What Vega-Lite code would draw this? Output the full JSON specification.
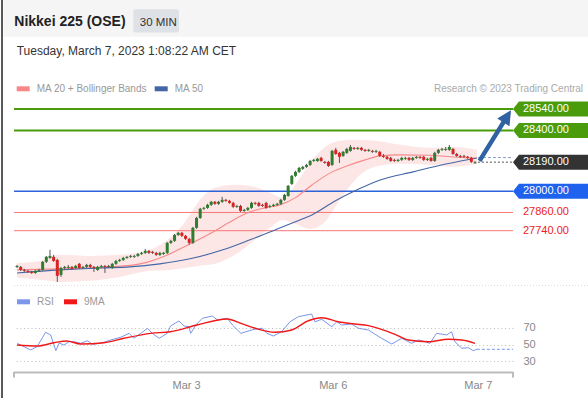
{
  "$schema": "https://vega.github.io/schema/vega-lite/v6.json",
  "width": 499,
  "height": 372,
  "autosize": "none",
  "padding": {"left": 14, "top": 0, "right": 75, "bottom": 26},
  "background": "#ffffff",
  "config": {"view": {"stroke": null}, "font": "Liberation Sans"},
  "datasets": {
    "candles": [
      {"i":0,"o":27502,"h":27515,"l":27495,"c":27508},
      {"i":1,"o":27502,"h":27508,"l":27476,"c":27482},
      {"i":2,"o":27482,"h":27489,"l":27469,"c":27476},
      {"i":3,"o":27476,"h":27482,"l":27462,"c":27469},
      {"i":4,"o":27469,"h":27476,"l":27456,"c":27462},
      {"i":5,"o":27462,"h":27482,"l":27456,"c":27476},
      {"i":6,"o":27476,"h":27489,"l":27469,"c":27482},
      {"i":7,"o":27482,"h":27541,"l":27476,"c":27535},
      {"i":8,"o":27535,"h":27574,"l":27528,"c":27568},
      {"i":9,"o":27561,"h":27614,"l":27555,"c":27574},
      {"i":10,"o":27568,"h":27581,"l":27535,"c":27541},
      {"i":11,"o":27548,"h":27555,"l":27403,"c":27443},
      {"i":12,"o":27449,"h":27502,"l":27436,"c":27495},
      {"i":13,"o":27495,"h":27508,"l":27482,"c":27502},
      {"i":14,"o":27495,"h":27515,"l":27489,"c":27502},
      {"i":15,"o":27502,"h":27508,"l":27482,"c":27489},
      {"i":16,"o":27495,"h":27515,"l":27489,"c":27508},
      {"i":17,"o":27522,"h":27528,"l":27489,"c":27495},
      {"i":18,"o":27495,"h":27508,"l":27489,"c":27502},
      {"i":19,"o":27502,"h":27522,"l":27495,"c":27515},
      {"i":20,"o":27515,"h":27522,"l":27495,"c":27502},
      {"i":21,"o":27502,"h":27508,"l":27469,"c":27495},
      {"i":22,"o":27482,"h":27508,"l":27476,"c":27502},
      {"i":23,"o":27502,"h":27515,"l":27495,"c":27508},
      {"i":24,"o":27508,"h":27515,"l":27462,"c":27502},
      {"i":25,"o":27502,"h":27515,"l":27495,"c":27508},
      {"i":26,"o":27495,"h":27528,"l":27489,"c":27522},
      {"i":27,"o":27522,"h":27548,"l":27515,"c":27541},
      {"i":28,"o":27541,"h":27555,"l":27535,"c":27548},
      {"i":29,"o":27548,"h":27568,"l":27541,"c":27561},
      {"i":30,"o":27561,"h":27574,"l":27555,"c":27568},
      {"i":31,"o":27568,"h":27581,"l":27561,"c":27574},
      {"i":32,"o":27568,"h":27581,"l":27561,"c":27574},
      {"i":33,"o":27574,"h":27594,"l":27568,"c":27587},
      {"i":34,"o":27587,"h":27601,"l":27581,"c":27594},
      {"i":35,"o":27594,"h":27620,"l":27587,"c":27607},
      {"i":36,"o":27607,"h":27614,"l":27587,"c":27594},
      {"i":37,"o":27601,"h":27607,"l":27587,"c":27594},
      {"i":38,"o":27594,"h":27601,"l":27574,"c":27581},
      {"i":39,"o":27581,"h":27601,"l":27574,"c":27594},
      {"i":40,"o":27587,"h":27601,"l":27581,"c":27594},
      {"i":41,"o":27594,"h":27666,"l":27587,"c":27660},
      {"i":42,"o":27660,"h":27680,"l":27653,"c":27673},
      {"i":43,"o":27673,"h":27719,"l":27666,"c":27712},
      {"i":44,"o":27712,"h":27732,"l":27706,"c":27726},
      {"i":45,"o":27726,"h":27732,"l":27699,"c":27706},
      {"i":46,"o":27706,"h":27712,"l":27680,"c":27686},
      {"i":47,"o":27686,"h":27693,"l":27647,"c":27660},
      {"i":48,"o":27660,"h":27765,"l":27653,"c":27759},
      {"i":49,"o":27759,"h":27831,"l":27752,"c":27824},
      {"i":50,"o":27824,"h":27890,"l":27818,"c":27884},
      {"i":51,"o":27884,"h":27897,"l":27877,"c":27890},
      {"i":52,"o":27890,"h":27917,"l":27884,"c":27910},
      {"i":53,"o":27910,"h":27936,"l":27903,"c":27930},
      {"i":54,"o":27930,"h":27936,"l":27910,"c":27917},
      {"i":55,"o":27917,"h":27936,"l":27910,"c":27930},
      {"i":56,"o":27930,"h":27963,"l":27923,"c":27943},
      {"i":57,"o":27943,"h":27949,"l":27930,"c":27936},
      {"i":58,"o":27936,"h":27943,"l":27917,"c":27923},
      {"i":59,"o":27923,"h":27930,"l":27890,"c":27897},
      {"i":60,"o":27897,"h":27910,"l":27890,"c":27903},
      {"i":61,"o":27903,"h":27910,"l":27864,"c":27870},
      {"i":62,"o":27870,"h":27884,"l":27864,"c":27877},
      {"i":63,"o":27877,"h":27897,"l":27870,"c":27890},
      {"i":64,"o":27890,"h":27930,"l":27884,"c":27923},
      {"i":65,"o":27923,"h":27930,"l":27910,"c":27917},
      {"i":66,"o":27923,"h":27930,"l":27897,"c":27903},
      {"i":67,"o":27910,"h":27917,"l":27897,"c":27903},
      {"i":68,"o":27923,"h":27930,"l":27884,"c":27890},
      {"i":69,"o":27897,"h":27910,"l":27890,"c":27903},
      {"i":70,"o":27903,"h":27917,"l":27897,"c":27910},
      {"i":71,"o":27910,"h":27923,"l":27903,"c":27917},
      {"i":72,"o":27917,"h":27949,"l":27910,"c":27943},
      {"i":73,"o":27943,"h":27982,"l":27936,"c":27976},
      {"i":74,"o":27969,"h":28041,"l":27963,"c":28035},
      {"i":75,"o":28048,"h":28107,"l":28041,"c":28101},
      {"i":76,"o":28101,"h":28134,"l":28094,"c":28127},
      {"i":77,"o":28127,"h":28160,"l":28120,"c":28153},
      {"i":78,"o":28147,"h":28166,"l":28140,"c":28160},
      {"i":79,"o":28160,"h":28180,"l":28153,"c":28173},
      {"i":80,"o":28173,"h":28206,"l":28166,"c":28199},
      {"i":81,"o":28199,"h":28213,"l":28193,"c":28206},
      {"i":82,"o":28199,"h":28219,"l":28193,"c":28213},
      {"i":83,"o":28219,"h":28226,"l":28193,"c":28199},
      {"i":84,"o":28193,"h":28199,"l":28180,"c":28186},
      {"i":85,"o":28193,"h":28199,"l":28160,"c":28166},
      {"i":86,"o":28173,"h":28272,"l":28166,"c":28265},
      {"i":87,"o":28272,"h":28285,"l":28239,"c":28245},
      {"i":88,"o":28252,"h":28259,"l":28186,"c":28226},
      {"i":89,"o":28232,"h":28265,"l":28226,"c":28259},
      {"i":90,"o":28252,"h":28285,"l":28245,"c":28278},
      {"i":91,"o":28265,"h":28304,"l":28259,"c":28291},
      {"i":92,"o":28285,"h":28291,"l":28272,"c":28278},
      {"i":93,"o":28278,"h":28291,"l":28272,"c":28285},
      {"i":94,"o":28285,"h":28291,"l":28265,"c":28272},
      {"i":95,"o":28272,"h":28278,"l":28259,"c":28265},
      {"i":96,"o":28265,"h":28278,"l":28259,"c":28272},
      {"i":97,"o":28265,"h":28272,"l":28252,"c":28259},
      {"i":98,"o":28259,"h":28272,"l":28252,"c":28265},
      {"i":99,"o":28259,"h":28265,"l":28226,"c":28232},
      {"i":100,"o":28232,"h":28245,"l":28219,"c":28226},
      {"i":101,"o":28226,"h":28232,"l":28206,"c":28213},
      {"i":102,"o":28219,"h":28226,"l":28193,"c":28199},
      {"i":103,"o":28206,"h":28213,"l":28193,"c":28199},
      {"i":104,"o":28199,"h":28213,"l":28193,"c":28206},
      {"i":105,"o":28206,"h":28226,"l":28199,"c":28219},
      {"i":106,"o":28213,"h":28226,"l":28206,"c":28219},
      {"i":107,"o":28219,"h":28226,"l":28199,"c":28206},
      {"i":108,"o":28206,"h":28226,"l":28199,"c":28219},
      {"i":109,"o":28219,"h":28232,"l":28213,"c":28226},
      {"i":110,"o":28226,"h":28232,"l":28213,"c":28219},
      {"i":111,"o":28226,"h":28232,"l":28199,"c":28206},
      {"i":112,"o":28206,"h":28219,"l":28199,"c":28213},
      {"i":113,"o":28219,"h":28226,"l":28193,"c":28199},
      {"i":114,"o":28199,"h":28259,"l":28193,"c":28252},
      {"i":115,"o":28252,"h":28278,"l":28245,"c":28272},
      {"i":116,"o":28272,"h":28285,"l":28265,"c":28278},
      {"i":117,"o":28272,"h":28291,"l":28265,"c":28278},
      {"i":118,"o":28272,"h":28304,"l":28265,"c":28291},
      {"i":119,"o":28278,"h":28285,"l":28239,"c":28245},
      {"i":120,"o":28245,"h":28252,"l":28226,"c":28232},
      {"i":121,"o":28232,"h":28239,"l":28219,"c":28226},
      {"i":122,"o":28232,"h":28239,"l":28219,"c":28226},
      {"i":123,"o":28226,"h":28232,"l":28213,"c":28219},
      {"i":124,"o":28219,"h":28226,"l":28186,"c":28193},
      {"i":125,"o":28184,"h":28199,"l":28180,"c":28190}
    ],
    "mas": [
      {"i":0,"v":27482,"s":"MA 20 + Bollinger Bands"},
      {"i":11.7,"v":27489,"s":"MA 20 + Bollinger Bands"},
      {"i":25.4,"v":27502,"s":"MA 20 + Bollinger Bands"},
      {"i":33.6,"v":27522,"s":"MA 20 + Bollinger Bands"},
      {"i":40.4,"v":27574,"s":"MA 20 + Bollinger Bands"},
      {"i":47.2,"v":27653,"s":"MA 20 + Bollinger Bands"},
      {"i":53.5,"v":27732,"s":"MA 20 + Bollinger Bands"},
      {"i":58.1,"v":27797,"s":"MA 20 + Bollinger Bands"},
      {"i":63.6,"v":27864,"s":"MA 20 + Bollinger Bands"},
      {"i":67.7,"v":27890,"s":"MA 20 + Bollinger Bands"},
      {"i":71.8,"v":27910,"s":"MA 20 + Bollinger Bands"},
      {"i":75.9,"v":27956,"s":"MA 20 + Bollinger Bands"},
      {"i":80.5,"v":28041,"s":"MA 20 + Bollinger Bands"},
      {"i":86,"v":28127,"s":"MA 20 + Bollinger Bands"},
      {"i":90,"v":28166,"s":"MA 20 + Bollinger Bands"},
      {"i":95,"v":28206,"s":"MA 20 + Bollinger Bands"},
      {"i":99.1,"v":28232,"s":"MA 20 + Bollinger Bands"},
      {"i":104.5,"v":28239,"s":"MA 20 + Bollinger Bands"},
      {"i":112.7,"v":28236,"s":"MA 20 + Bollinger Bands"},
      {"i":120.9,"v":28222,"s":"MA 20 + Bollinger Bands"},
      {"i":125.5,"v":28217,"s":"MA 20 + Bollinger Bands"},
      {"i":0,"v":27462,"s":"MA 50"},
      {"i":11.7,"v":27482,"s":"MA 50"},
      {"i":22.7,"v":27495,"s":"MA 50"},
      {"i":30.8,"v":27502,"s":"MA 50"},
      {"i":39,"v":27522,"s":"MA 50"},
      {"i":47.2,"v":27555,"s":"MA 50"},
      {"i":56.2,"v":27614,"s":"MA 50"},
      {"i":63.6,"v":27680,"s":"MA 50"},
      {"i":70.4,"v":27745,"s":"MA 50"},
      {"i":77.2,"v":27811,"s":"MA 50"},
      {"i":80.5,"v":27844,"s":"MA 50"},
      {"i":86.8,"v":27935,"s":"MA 50"},
      {"i":92.8,"v":28009,"s":"MA 50"},
      {"i":99.1,"v":28074,"s":"MA 50"},
      {"i":108.1,"v":28127,"s":"MA 50"},
      {"i":117.4,"v":28180,"s":"MA 50"},
      {"i":125.5,"v":28219,"s":"MA 50"}
    ],
    "bb": [
      {"i":0,"up":27528,"lo":27430},
      {"i":6.28,"up":27541,"lo":27417},
      {"i":11.74,"up":27581,"lo":27403},
      {"i":19.92,"up":27574,"lo":27410},
      {"i":28.11,"up":27581,"lo":27436},
      {"i":36.3,"up":27614,"lo":27476},
      {"i":41.76,"up":27693,"lo":27482},
      {"i":45.85,"up":27798,"lo":27495},
      {"i":49.95,"up":27943,"lo":27509},
      {"i":54.04,"up":28022,"lo":27522},
      {"i":59.5,"up":28042,"lo":27581},
      {"i":64.96,"up":28028,"lo":27680},
      {"i":69.05,"up":27989,"lo":27759},
      {"i":72.6,"up":27956,"lo":27811},
      {"i":75.87,"up":28041,"lo":27785},
      {"i":79.97,"up":28186,"lo":27752},
      {"i":84.06,"up":28291,"lo":27798},
      {"i":88.16,"up":28331,"lo":27943},
      {"i":92.25,"up":28338,"lo":28074},
      {"i":97.71,"up":28331,"lo":28160},
      {"i":104.53,"up":28305,"lo":28180},
      {"i":112.72,"up":28285,"lo":28173},
      {"i":119.54,"up":28291,"lo":28160},
      {"i":125.55,"up":28272,"lo":28180}
    ],
    "rsi": [
      {"i":0.08,"v":51.4,"s":"RSI"},{"i":1.9,"v":47.4,"s":"RSI"},{"i":3.7,"v":43.5,"s":"RSI"},
      {"i":5.5,"v":47.4,"s":"RSI"},{"i":7.8,"v":64.5,"s":"RSI"},{"i":9.2,"v":61.3,"s":"RSI"},
      {"i":10.6,"v":42.6,"s":"RSI"},{"i":11.5,"v":51.8,"s":"RSI"},{"i":12.8,"v":49.4,"s":"RSI"},
      {"i":14.2,"v":53.3,"s":"RSI"},{"i":15.6,"v":53.3,"s":"RSI"},{"i":17.4,"v":51.4,"s":"RSI"},
      {"i":19.2,"v":54.5,"s":"RSI"},{"i":20.6,"v":50.2,"s":"RSI"},{"i":22.8,"v":51.4,"s":"RSI"},
      {"i":25.6,"v":55.4,"s":"RSI"},{"i":28.3,"v":58.6,"s":"RSI"},{"i":30.6,"v":63.3,"s":"RSI"},
      {"i":31.9,"v":57.4,"s":"RSI"},{"i":33.8,"v":63.3,"s":"RSI"},{"i":35.6,"v":69.3,"s":"RSI"},
      {"i":36.9,"v":63.3,"s":"RSI"},{"i":38.8,"v":57.4,"s":"RSI"},{"i":41.0,"v":63.3,"s":"RSI"},
      {"i":41.9,"v":72,"s":"RSI"},{"i":44.2,"v":78,"s":"RSI"},{"i":45.6,"v":72,"s":"RSI"},
      {"i":46.9,"v":71.2,"s":"RSI"},{"i":47.4,"v":63.3,"s":"RSI"},{"i":48.8,"v":73.2,"s":"RSI"},
      {"i":50.6,"v":81.2,"s":"RSI"},{"i":53.3,"v":83.9,"s":"RSI"},{"i":54.7,"v":79.2,"s":"RSI"},
      {"i":57.4,"v":81.2,"s":"RSI"},{"i":58.8,"v":73.2,"s":"RSI"},{"i":61.1,"v":63.3,"s":"RSI"},
      {"i":64.7,"v":68.1,"s":"RSI"},{"i":67.0,"v":69.3,"s":"RSI"},{"i":68.2,"v":63.3,"s":"RSI"},
      {"i":70.0,"v":60.1,"s":"RSI"},{"i":72.2,"v":65.2,"s":"RSI"},{"i":74.5,"v":77.1,"s":"RSI"},
      {"i":76.8,"v":83.1,"s":"RSI"},{"i":80.4,"v":86.3,"s":"RSI"},{"i":81.3,"v":77.1,"s":"RSI"},
      {"i":83.2,"v":80,"s":"RSI"},{"i":85.9,"v":71.2,"s":"RSI"},{"i":87.3,"v":77.1,"s":"RSI"},
      {"i":88.6,"v":73.2,"s":"RSI"},{"i":91.3,"v":74.4,"s":"RSI"},{"i":93.2,"v":69.3,"s":"RSI"},
      {"i":95.9,"v":67.3,"s":"RSI"},{"i":99.5,"v":57.4,"s":"RSI"},{"i":102.3,"v":50.6,"s":"RSI"},
      {"i":105,"v":57.4,"s":"RSI"},{"i":107.7,"v":51.4,"s":"RSI"},{"i":109.5,"v":55.4,"s":"RSI"},
      {"i":111.4,"v":53.3,"s":"RSI"},{"i":112.7,"v":51.4,"s":"RSI"},{"i":114.5,"v":63.3,"s":"RSI"},
      {"i":117.3,"v":61.3,"s":"RSI"},{"i":118.6,"v":65.2,"s":"RSI"},{"i":119.5,"v":53.3,"s":"RSI"},
      {"i":121.4,"v":45.5,"s":"RSI"},{"i":123.2,"v":46.2,"s":"RSI"},{"i":124.5,"v":42.6,"s":"RSI"},
      {"i":125.5,"v":44.3,"s":"RSI"},
      {"i":0,"v":49.4,"s":"9MA"},{"i":5.5,"v":48.2,"s":"9MA"},{"i":10.1,"v":52.1,"s":"9MA"},
      {"i":13.6,"v":54.2,"s":"9MA"},{"i":17.4,"v":50.6,"s":"9MA"},{"i":23.7,"v":52.1,"s":"9MA"},
      {"i":29.2,"v":57.4,"s":"9MA"},{"i":36.5,"v":63.3,"s":"9MA"},{"i":41.9,"v":65.2,"s":"9MA"},
      {"i":49.1,"v":73.2,"s":"9MA"},{"i":57.4,"v":80.4,"s":"9MA"},{"i":61.1,"v":75.2,"s":"9MA"},
      {"i":65,"v":69.3,"s":"9MA"},{"i":70.4,"v":64.5,"s":"9MA"},{"i":75,"v":67.3,"s":"9MA"},
      {"i":79.5,"v":78.3,"s":"9MA"},{"i":83.2,"v":81.9,"s":"9MA"},{"i":87.7,"v":77.1,"s":"9MA"},
      {"i":92.2,"v":74.4,"s":"9MA"},{"i":95.9,"v":72.4,"s":"9MA"},{"i":99.5,"v":68.1,"s":"9MA"},
      {"i":103.2,"v":62.1,"s":"9MA"},{"i":106.8,"v":55.4,"s":"9MA"},{"i":112.3,"v":53.3,"s":"9MA"},
      {"i":117.7,"v":56.2,"s":"9MA"},{"i":121.4,"v":55.4,"s":"9MA"},{"i":125,"v":51.4,"s":"9MA"}
    ]
  },
  "layer": [
    {
      "layer": [
        {
          "data": {"values": [{}]},
          "mark": {"type": "rect", "color": "#f5f5f5"},
          "encoding": {
            "x": {"datum": -3.68, "type": "quantitative", "axis": null},
            "x2": {"datum": 155.85},
            "y": {"datum": 29258.6, "type": "quantitative", "axis": null},
            "y2": {"datum": 29015.2}
          }
        },
        {
          "data": {"values": [{}]},
          "mark": {"type": "rect", "color": "#dee1e5", "cornerRadius": 2},
          "encoding": {
            "x": {"datum": 31.74, "type": "quantitative", "axis": null},
            "x2": {"datum": 44.22},
            "y": {"datum": 29197.4, "type": "quantitative", "axis": null},
            "y2": {"datum": 29043.5}
          }
        },
        {
          "data": {"values": [{}]},
          "mark": {"type": "text", "text": "Nikkei 225 (OSE)", "align": "left", "baseline": "alphabetic", "fontSize": 14, "fontWeight": "bold", "color": "#222222"},
          "encoding": {
            "x": {"datum": -0.74, "type": "quantitative", "axis": null},
            "y": {"datum": 29087.5, "type": "quantitative", "axis": null}
          }
        },
        {
          "data": {"values": [{}]},
          "mark": {"type": "text", "text": "30 MIN", "align": "center", "baseline": "alphabetic", "fontSize": 11.5, "color": "#333333"},
          "encoding": {
            "x": {"datum": 38.57, "type": "quantitative", "axis": null},
            "y": {"datum": 29089.5, "type": "quantitative", "axis": null}
          }
        },
        {
          "data": {"values": [{}]},
          "mark": {"type": "text", "text": "Tuesday, March 7, 2023 1:08:22 AM CET", "align": "left", "baseline": "alphabetic", "fontSize": 12, "color": "#333333"},
          "encoding": {
            "x": {"datum": -0.08, "type": "quantitative", "axis": null},
            "y": {"datum": 28896.7, "type": "quantitative", "axis": null}
          }
        },
        {
          "data": {"values": [{}]},
          "mark": {"type": "text", "text": "Research © 2023 Trading Central", "align": "right", "baseline": "alphabetic", "fontSize": 10, "color": "#aaaaaa"},
          "encoding": {
            "x": {"datum": 154.5, "type": "quantitative", "axis": null},
            "y": {"datum": 28653, "type": "quantitative", "axis": null}
          }
        },
        {
          "data": {"values": [{}]},
          "mark": {"type": "rule", "color": "#222222", "strokeWidth": 1.5},
          "encoding": {
            "x": {"datum": -4.09, "type": "quantitative", "axis": null},
            "y": {"datum": 29258.6, "type": "quantitative", "axis": null},
            "y2": {"datum": 26640}
          }
        },
        {
          "data": {"values": [{}]},
          "mark": {"type": "rule", "color": "#dddddd", "strokeWidth": 1, "strokeDash": [1, 2]},
          "encoding": {
            "x": {"datum": -0.82, "type": "quantitative", "axis": null},
            "x2": {"datum": 155.85},
            "y": {"datum": 27379, "type": "quantitative", "axis": null}
          }
        },
        {
          "data": {"name": "bb"},
          "mark": {"type": "area", "color": "#fbd5d5", "opacity": 0.6, "interpolate": "monotone"},
          "encoding": {
            "x": {"field": "i", "type": "quantitative", "axis": null, "title": null},
            "y": {"field": "up", "type": "quantitative", "axis": null},
            "y2": {"field": "lo"}
          }
        },
        {
          "data": {"values": [{"v": 28540}, {"v": 28400}]},
          "mark": {"type": "rule", "color": "#4a9c0c", "strokeWidth": 2},
          "encoding": {
            "x": {"datum": -0.82, "type": "quantitative", "axis": null},
            "x2": {"datum": 135.37},
            "y": {"field": "v", "type": "quantitative", "axis": null}
          }
        },
        {
          "data": {"values": [{"v": 28000}]},
          "mark": {"type": "rule", "color": "#2b63d9", "strokeWidth": 1.5},
          "encoding": {
            "x": {"datum": -0.82, "type": "quantitative", "axis": null},
            "x2": {"datum": 135.37},
            "y": {"field": "v", "type": "quantitative", "axis": null}
          }
        },
        {
          "data": {"values": [{"v": 27860}, {"v": 27740}]},
          "mark": {"type": "rule", "color": "#f77777", "strokeWidth": 1},
          "encoding": {
            "x": {"datum": -0.82, "type": "quantitative", "axis": null},
            "x2": {"datum": 135.37},
            "y": {"field": "v", "type": "quantitative", "axis": null}
          }
        },
        {
          "data": {"name": "mas"},
          "mark": {"type": "line", "strokeWidth": 1.1, "interpolate": "monotone"},
          "encoding": {
            "x": {"field": "i", "type": "quantitative", "axis": null, "title": null},
            "y": {"field": "v", "type": "quantitative", "axis": null},
            "color": {
              "field": "s",
              "type": "nominal",
              "scale": {"domain": ["MA 20 + Bollinger Bands", "MA 50"], "range": ["#f88888", "#4466a6"]},
              "legend": {
                "orient": "none", "legendX": 0.2, "legendY": 79.8, "direction": "horizontal",
                "title": null, "symbolType": "stroke", "symbolSize": 169, "symbolStrokeWidth": 5,
                "labelFontSize": 10, "labelColor": "#999999", "labelFont": "Liberation Sans",
                "labelOffset": 4.5, "columnPadding": -3, "padding": 0
              }
            }
          }
        },
        {
          "data": {"name": "candles"},
          "mark": {"type": "rule", "color": "#555555", "strokeWidth": 1},
          "encoding": {
            "x": {"field": "i", "type": "quantitative", "axis": null, "title": null},
            "y": {"field": "l", "type": "quantitative", "axis": null},
            "y2": {"field": "h"}
          }
        },
        {
          "data": {"name": "candles"},
          "mark": {"type": "bar", "size": 3},
          "encoding": {
            "x": {"field": "i", "type": "quantitative", "axis": null, "title": null,
                  "scale": {"domain": [-0.82, 135.37], "nice": false, "zero": false, "padding": 0}},
            "y": {"field": "o", "type": "quantitative", "axis": null,
                  "scale": {"domain": [27740, 28540], "range": [230.7, 109.1], "nice": false, "zero": false}},
            "y2": {"field": "c"},
            "color": {"condition": {"test": "datum.c >= datum.o", "value": "#2f7d2f"}, "value": "#d92323"}
          }
        },
        {
          "data": {"values": [{}]},
          "mark": {"type": "rule", "color": "#8a9bbd", "strokeWidth": 1, "strokeDash": [3, 2]},
          "encoding": {
            "x": {"datum": 125.8, "type": "quantitative", "axis": null},
            "x2": {"datum": 135.37},
            "y": {"datum": 28221, "type": "quantitative", "axis": null}
          }
        },
        {
          "data": {"values": [{}]},
          "mark": {"type": "rule", "color": "#555555", "strokeWidth": 1, "strokeDash": [2, 2]},
          "encoding": {
            "x": {"datum": 125.8, "type": "quantitative", "axis": null},
            "x2": {"datum": 135.37},
            "y": {"datum": 28191, "type": "quantitative", "axis": null}
          }
        },
        {
          "data": {"values": [
            {"v": 28540, "label": "28540.00", "k": "res"},
            {"v": 28400, "label": "28400.00", "k": "res"},
            {"v": 28190, "label": "28190.00", "k": "last"},
            {"v": 28000, "label": "28000.00", "k": "sup"}
          ]},
          "layer": [
            {
              "mark": {"type": "point", "filled": true, "opacity": 1, "strokeWidth": 0, "size": 5625,
                       "shape": "M-1,0L-0.84,-0.2L1,-0.2L1,0.2L-0.84,0.2Z"},
              "encoding": {
                "x": {"datum": 145.6, "type": "quantitative", "axis": null},
                "y": {"field": "v", "type": "quantitative", "axis": null},
                "fill": {"field": "k", "type": "nominal", "legend": null,
                         "scale": {"domain": ["res", "last", "sup"], "range": ["#4a9c0c", "#333333", "#1e62ee"]}}
              }
            },
            {
              "mark": {"type": "text", "align": "left", "baseline": "middle", "fontSize": 11, "color": "#ffffff"},
              "encoding": {
                "x": {"datum": 138.1, "type": "quantitative", "axis": null},
                "y": {"field": "v", "type": "quantitative", "axis": null},
                "text": {"field": "label"}
              }
            }
          ]
        },
        {
          "data": {"values": [{"v": 27860, "label": "27860.00"}, {"v": 27740, "label": "27740.00"}]},
          "mark": {"type": "text", "align": "left", "baseline": "middle", "fontSize": 11, "color": "#ee1c1c"},
          "encoding": {
            "x": {"datum": 138.1, "type": "quantitative", "axis": null},
            "y": {"field": "v", "type": "quantitative", "axis": null},
            "text": {"field": "label"}
          }
        },
        {
          "data": {"values": [{}]},
          "mark": {"type": "rule", "color": "#3061a3", "strokeWidth": 4.5},
          "encoding": {
            "x": {"datum": 126.23, "type": "quantitative", "axis": null},
            "x2": {"datum": 132.92},
            "y": {"datum": 28199.4, "type": "quantitative", "axis": null},
            "y2": {"datum": 28459.3}
          }
        },
        {
          "data": {"values": [{}]},
          "mark": {"type": "point", "filled": true, "opacity": 1, "color": "#3061a3", "size": 289, "angle": 32,
                   "shape": "M0,-1L0.85,0.7L-0.85,0.7Z"},
          "encoding": {
            "x": {"datum": 133.6, "type": "quantitative", "axis": null},
            "y": {"datum": 28485.6, "type": "quantitative", "axis": null}
          }
        }
      ]
    },
    {
      "layer": [
        {
          "data": {"name": "rsi"},
          "transform": [{"filter": "datum.s == 'RSI'"}],
          "mark": {"type": "line", "strokeWidth": 1},
          "encoding": {
            "x": {"field": "i", "type": "quantitative", "title": null, "axis": null,
                  "scale": {"domain": [-0.82, 135.37], "nice": false, "zero": false, "padding": 0}},
            "y": {"field": "v", "type": "quantitative", "title": null,
                  "scale": {"domain": [30, 70], "range": [361.3, 327.7], "nice": false, "zero": false},
                  "axis": {"orient": "right", "values": [30, 50, 70], "title": null,
                           "grid": true, "gridDash": [1, 2.7], "gridColor": "#bbbbbb", "gridWidth": 1,
                           "ticks": false, "tickSize": 0, "domain": false, "labelPadding": 10,
                           "labelColor": "#888888", "labelFontSize": 11, "labelFont": "Liberation Sans"}},
            "color": {
              "field": "s", "type": "nominal",
              "scale": {"domain": ["RSI", "9MA"], "range": ["#7b96ea", "#f01818"]},
              "legend": {
                "orient": "none", "legendX": 0.5, "legendY": 292.8, "direction": "horizontal",
                "title": null, "symbolType": "stroke", "symbolSize": 169, "symbolStrokeWidth": 5,
                "labelFontSize": 10, "labelColor": "#999999", "labelFont": "Liberation Sans",
                "labelOffset": 4.5, "columnPadding": -1, "padding": 0
              }
            }
          }
        },
        {
          "data": {"name": "rsi"},
          "transform": [{"filter": "datum.s == '9MA'"}],
          "mark": {"type": "line", "strokeWidth": 1.4, "interpolate": "monotone"},
          "encoding": {
            "x": {"field": "i", "type": "quantitative", "title": null, "axis": null},
            "y": {"field": "v", "type": "quantitative", "title": null},
            "color": {"field": "s", "type": "nominal"}
          }
        },
        {
          "data": {"values": [{}]},
          "mark": {"type": "rule", "color": "#7b96ea", "strokeWidth": 1, "strokeDash": [3, 2]},
          "encoding": {
            "x": {"datum": 125.5, "type": "quantitative", "axis": null},
            "x2": {"datum": 135.37},
            "y": {"datum": 44.3, "type": "quantitative"}
          }
        },
        {
          "data": {"values": [{}]},
          "mark": {"type": "rule", "color": "#bbbbbb", "strokeWidth": 2},
          "encoding": {
            "x": {"datum": -0.82, "type": "quantitative", "axis": null},
            "x2": {"datum": 135.37},
            "y": {"datum": 16.7, "type": "quantitative"}
          }
        },
        {
          "data": {"values": [{"t": -0.82}, {"t": 135.37}]},
          "mark": {"type": "rule", "color": "#bbbbbb", "strokeWidth": 2},
          "encoding": {
            "x": {"field": "t", "type": "quantitative", "axis": null, "title": null},
            "y": {"datum": 17.3, "type": "quantitative"},
            "y2": {"datum": 10.7}
          }
        },
        {
          "data": {"values": [{"i": 46.3, "label": "Mar 3"}, {"i": 86.3, "label": "Mar 6"}, {"i": 125.9, "label": "Mar 7"}]},
          "mark": {"type": "text", "align": "center", "baseline": "alphabetic", "fontSize": 11, "color": "#888888"},
          "encoding": {
            "x": {"field": "i", "type": "quantitative", "axis": null, "title": null},
            "y": {"datum": -3.0, "type": "quantitative"},
            "text": {"field": "label"}
          }
        }
      ]
    }
  ],
  "resolve": {"scale": {"y": "independent", "color": "independent"}, "legend": {"color": "independent"}, "axis": {"y": "independent"}}
}
